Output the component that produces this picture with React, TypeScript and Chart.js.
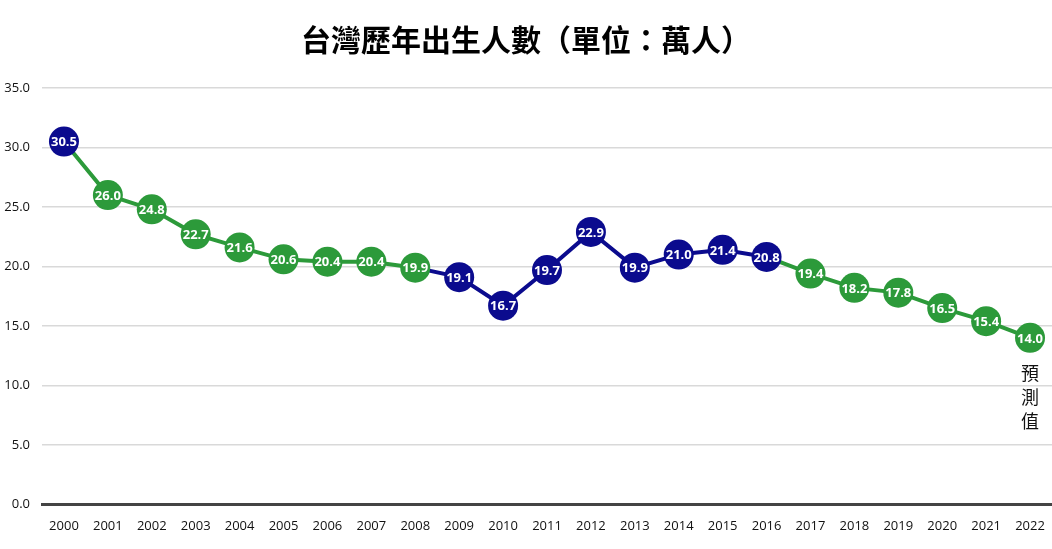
import React, { useEffect, useRef } from "react";
import { Chart, registerables } from "chart.js";

Chart.register(...registerables);

const years = ["2000","2001","2002","2003","2004","2005","2006","2007","2008","2009","2010","2011","2012","2013","2014","2015","2016","2017","2018","2019","2020","2021","2022"];
const births = [30.5, 26.0, 24.8, 22.7, 21.6, 20.6, 20.4, 20.4, 19.9, 19.1, 16.7, 19.7, 22.9, 19.9, 21.0, 21.4, 20.8, 19.4, 18.2, 17.8, 16.5, 15.4, 14.0];
const highlighted = [true, false, false, false, false, false, false, false, false, true, true, true, true, true, true, true, true, false, false, false, false, false, false];
const titleText = "台灣歷年出生人數（單位：萬人）";
const noteText = ["預", "測", "值"];

const BLUE = "#0B0B8E";
const GREEN = "#2C9A3A";

export default function App() {
  const ref = useRef<HTMLCanvasElement>(null);
  useEffect(() => {
    document.body.style.margin = "0";
    const colors = highlighted.map((h) => (h ? BLUE : GREEN));
    const labelPlugin = {
      id: "labels",
      afterDatasetsDraw(chart: any) {
        const ctx = chart.ctx;
        const meta = chart.getDatasetMeta(0);
        ctx.save();
        ctx.fillStyle = "#ffffff";
        ctx.font = "bold 13px 'Open Sans', 'DejaVu Sans', sans-serif";
        ctx.textAlign = "center";
        ctx.textBaseline = "middle";
        meta.data.forEach((pt: any, i: number) => {
          ctx.fillText(births[i].toFixed(1), pt.x, pt.y + 1);
        });
        const last = meta.data[meta.data.length - 1];
        ctx.fillStyle = "#111111";
        ctx.font = "18px 'Noto Sans CJK TC', sans-serif";
        noteText.forEach((c, k) => {
          ctx.fillText(c, last.x, last.y + 35 + k * 24);
        });
        ctx.restore();
      },
    };
    const chart = new Chart(ref.current!, {
      type: "line",
      data: {
        labels: years,
        datasets: [
          {
            data: births,
            borderWidth: 4,
            pointRadius: 15,
            pointHoverRadius: 15,
            pointBorderWidth: 0,
            pointBackgroundColor: colors,
            pointBorderColor: colors,
            segment: {
              borderColor: (c: any) => colors[c.p1DataIndex],
            },
            borderColor: GREEN,
          },
        ],
      },
      options: {
        animation: false,
        responsive: false,
        layout: { autoPadding: false, padding: { left: 0, right: 0, top: 0, bottom: 9 } },
        plugins: {
          legend: { display: false },
          tooltip: { enabled: false },
          title: {
            display: true,
            text: titleText,
            color: "#000000",
            font: { size: 30, weight: "bold", family: "'Noto Sans CJK TC', sans-serif" },
            padding: { top: 22, bottom: 30 },
          },
        },
        scales: {
          x: {
            offset: true,
            grid: { display: false },
            border: { display: true, color: "#444444", width: 3 },
            ticks: {
              color: "#111111",
              font: { size: 13, family: "'Open Sans', 'DejaVu Sans', sans-serif" },
              maxRotation: 0,
              autoSkip: false,
              padding: 6,
            },
          },
          y: {
            min: 0,
            max: 35,
            afterFit: (scale: any) => {
              scale.width = 42;
            },
            ticks: {
              stepSize: 5,
              color: "#111111",
              font: { size: 13, family: "'Open Sans', 'DejaVu Sans', sans-serif" },
              callback: (v: any) => Number(v).toFixed(1),
              padding: 12,
            },
            grid: { color: "#d9d9d9", lineWidth: 1.5, drawTicks: false },
            border: { display: false },
          },
        },
      },
      plugins: [labelPlugin],
    });
    return () => chart.destroy();
  }, []);
  return (
    <div style={{ width: 1052, height: 549 }}>
      <canvas ref={ref} width={1052} height={549} />
    </div>
  );
}
